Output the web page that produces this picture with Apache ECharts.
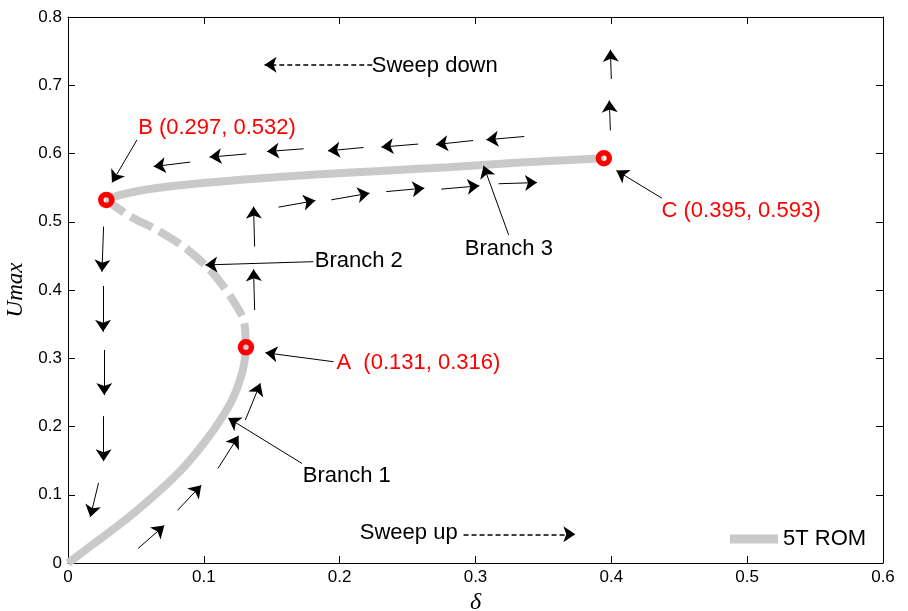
<!DOCTYPE html>
<html>
<head>
<meta charset="utf-8">
<script src="https://cdn.jsdelivr.net/npm/echarts@6/dist/echarts.min.js"></script>
<style>
  html, body { margin: 0; padding: 0; background: #fff; }
  #chart { width: 908px; height: 611px; }
</style>
</head>
<body>
<div id="chart"></div>
<script>
// branch curves (delta, Umax)
var branch1X = [0, 0.0188, 0.0434, 0.0680, 0.0851, 0.0998, 0.1121, 0.1219, 0.1281, 0.1303, 0.1310]
var branch1Y = [0, 0.028, 0.065, 0.107, 0.140, 0.1751, 0.2093, 0.2435, 0.2778, 0.300, 0.316]
var branch2X = [0.1310, 0.1306, 0.1293, 0.1244, 0.1146, 0.1023, 0.0851, 0.0655, 0.0459, 0.0282]
var branch2Y = [0.316, 0.335, 0.356, 0.3755, 0.405, 0.434, 0.4635, 0.488, 0.5076, 0.532]
var branch3X = [0.0282, 0.04, 0.06, 0.09, 0.13, 0.18, 0.23, 0.28, 0.33, 0.3945]
var branch3Y = [0.532, 0.540, 0.548, 0.555, 0.562, 0.569, 0.5745, 0.580, 0.5865, 0.593]

// bifurcation points A, B, C
var pointX = [0.131, 0.0282, 0.3945]
var pointY = [0.316, 0.532, 0.593]

var xTicks = [0, 0.6, 0.1]
var yTicks = [0, 0.8, 0.1]

// annotation arrows [x1, y1, x2, y2], head at the second point
var arrows = [
  [0.0508, 0.6200, 0.0324, 0.5574],
  [0.0900, 0.5874, 0.0630, 0.5809],
  [0.1313, 0.5993, 0.1042, 0.5947],
  [0.1735, 0.6069, 0.1465, 0.6029],
  [0.2176, 0.6088, 0.1914, 0.6039],
  [0.2577, 0.6138, 0.2307, 0.6094],
  [0.2982, 0.6190, 0.2709, 0.6132],
  [0.3359, 0.6249, 0.3080, 0.6201],
  [0.1550, 0.5214, 0.1821, 0.5310],
  [0.1938, 0.5321, 0.2220, 0.5419],
  [0.2343, 0.5442, 0.2623, 0.5492],
  [0.2748, 0.5478, 0.3028, 0.5526],
  [0.3170, 0.5557, 0.3453, 0.5574],
  [0.3244, 0.4807, 0.3060, 0.5819],
  [0.1374, 0.4636, 0.1366, 0.5222],
  [0.1374, 0.3707, 0.1366, 0.4304],
  [0.1806, 0.4415, 0.1011, 0.4367],
  [0.1955, 0.2949, 0.1453, 0.3081],
  [0.0515, 0.0211, 0.0709, 0.0549],
  [0.0807, 0.0773, 0.0981, 0.1140],
  [0.1104, 0.1385, 0.1256, 0.1863],
  [0.1305, 0.2093, 0.1416, 0.2632],
  [0.1723, 0.1458, 0.1180, 0.2123],
  [0.0262, 0.4929, 0.0250, 0.4269],
  [0.0258, 0.4059, 0.0258, 0.3389],
  [0.0267, 0.3120, 0.0267, 0.2460],
  [0.0262, 0.2152, 0.0262, 0.1492],
  [0.0225, 0.1174, 0.0164, 0.0675],
  [0.3993, 0.6337, 0.3985, 0.6777],
  [0.4000, 0.7091, 0.3993, 0.7521],
  [0.4373, 0.5345, 0.4037, 0.5750]
]
var sweepArrows = [
  [0.2240, 0.7301, 0.1447, 0.7301],
  [0.2912, 0.0421, 0.3735, 0.0421]
]

// text notes: left edge / vertical middle
var noteText = ['B (0.297, 0.532)', 'Sweep down', 'Branch 2', 'Branch 3', 'C (0.395, 0.593)', 'A  (0.131, 0.316)', 'Branch 1', 'Sweep up']
var noteX = [0.0520, 0.2240, 0.1820, 0.2925, 0.4373, 0.1980, 0.1732, 0.2152]
var noteY = [0.6372, 0.7276, 0.4415, 0.4587, 0.5149, 0.2925, 0.1262, 0.0431]
var noteRed = [true, false, false, false, true, true, false, false]

var GRAY = '#c9c9c9'
var sans = 'Liberation Sans, Arial, Helvetica, sans-serif'

function zip(xs, ys) {
  return xs.map(function (x, i) { return [x, ys[i]] })
}
function toLines(list) {
  return list.map(function (a) { return {coords: [[a[0], a[1]], [a[2], a[3]]]} })
}

var chart = echarts.init(document.getElementById('chart'), null, {renderer: 'canvas'})

var axisCommon = {
  type: 'value',
  axisLine: {show: true, onZero: false, lineStyle: {color: '#000', width: 1}},
  axisTick: {show: true, inside: true, length: 7, lineStyle: {color: '#000'}},
  splitLine: {show: false}
}

var xAxes = [
  Object.assign({}, axisCommon, {
    position: 'bottom', min: xTicks[0], max: xTicks[1], interval: xTicks[2],
    name: 'δ', nameLocation: 'middle', nameGap: 24,
    nameTextStyle: {fontFamily: 'Liberation Serif, Times New Roman, serif', fontStyle: 'italic', fontSize: 24, color: '#000'},
    axisLabel: {fontFamily: sans, fontSize: 17, color: '#000', margin: 6}
  }),
  Object.assign({}, axisCommon, {
    position: 'top', min: xTicks[0], max: xTicks[1], interval: xTicks[2],
    axisLabel: {show: false}
  })
]
var yAxes = [
  Object.assign({}, axisCommon, {
    position: 'left', min: yTicks[0], max: yTicks[1], interval: yTicks[2],
    name: 'Umax', nameLocation: 'middle', nameGap: 36, nameRotate: 90,
    nameTextStyle: {fontFamily: 'Liberation Serif, Times New Roman, serif', fontStyle: 'italic', fontSize: 23, color: '#000'},
    axisLabel: {fontFamily: sans, fontSize: 17, color: '#000', margin: 6}
  }),
  Object.assign({}, axisCommon, {
    position: 'right', min: yTicks[0], max: yTicks[1], interval: yTicks[2],
    axisLabel: {show: false}
  })
]

var branchStyle = {color: GRAY, width: 8, cap: 'butt'}

chart.setOption({
  animation: false,
  backgroundColor: '#fff',
  grid: {left: 68, right: 25, top: 17, bottom: 48, containLabel: false, outerBoundsMode: 'none'},
  xAxis: xAxes,
  yAxis: yAxes,
  legend: {
    data: ['5T ROM'],
    left: 730, top: 528,
    padding: 0,
    icon: 'rect',
    itemWidth: 48, itemHeight: 9,
    itemStyle: {color: GRAY, opacity: 1},
    textStyle: {fontFamily: sans, fontSize: 22, color: '#000'}
  },
  series: [
    {
      name: '5T ROM', type: 'line', smooth: 0.3, showSymbol: false, color: GRAY,
      lineStyle: branchStyle, data: zip(branch1X, branch1Y), z: 2
    },
    {
      name: '5T ROM', type: 'line', smooth: 0.3, showSymbol: false, color: GRAY,
      lineStyle: Object.assign({}, branchStyle, {type: [24, 8]}), data: zip(branch2X, branch2Y), z: 2
    },
    {
      name: '5T ROM', type: 'line', smooth: 0.3, showSymbol: false, color: GRAY,
      lineStyle: branchStyle, data: zip(branch3X, branch3Y), z: 2
    },
    {
      type: 'lines', coordinateSystem: 'cartesian2d', z: 3,
      symbol: ['none', 'arrow'], symbolSize: [8, 12],
      lineStyle: {color: '#000', width: 1, opacity: 1},
      data: toLines(arrows)
    },
    {
      type: 'lines', coordinateSystem: 'cartesian2d', z: 3,
      symbol: ['none', 'arrow'], symbolSize: [8, 12],
      lineStyle: {color: '#000', width: 1.6, type: [5, 3], opacity: 1},
      data: toLines(sweepArrows)
    },
    {
      type: 'scatter', symbol: 'circle', symbolSize: 11, z: 4,
      itemStyle: {color: 'rgba(0,0,0,0)', borderColor: '#ff0000', borderWidth: 5.5, opacity: 1},
      data: zip(pointX, pointY)
    },
    {
      type: 'scatter', symbolSize: 1, z: 5,
      itemStyle: {color: 'rgba(0,0,0,0)', opacity: 1},
      data: noteText.map(function (t, i) {
        return {
          value: [noteX[i], noteY[i]],
          label: {
            show: true, formatter: t, position: [0, 0], align: 'left', verticalAlign: 'middle',
            fontFamily: sans, fontSize: 22, opacity: 1, color: noteRed[i] ? '#ff0000' : '#000'
          }
        }
      })
    }
  ]
})
</script>
</body>
</html>
